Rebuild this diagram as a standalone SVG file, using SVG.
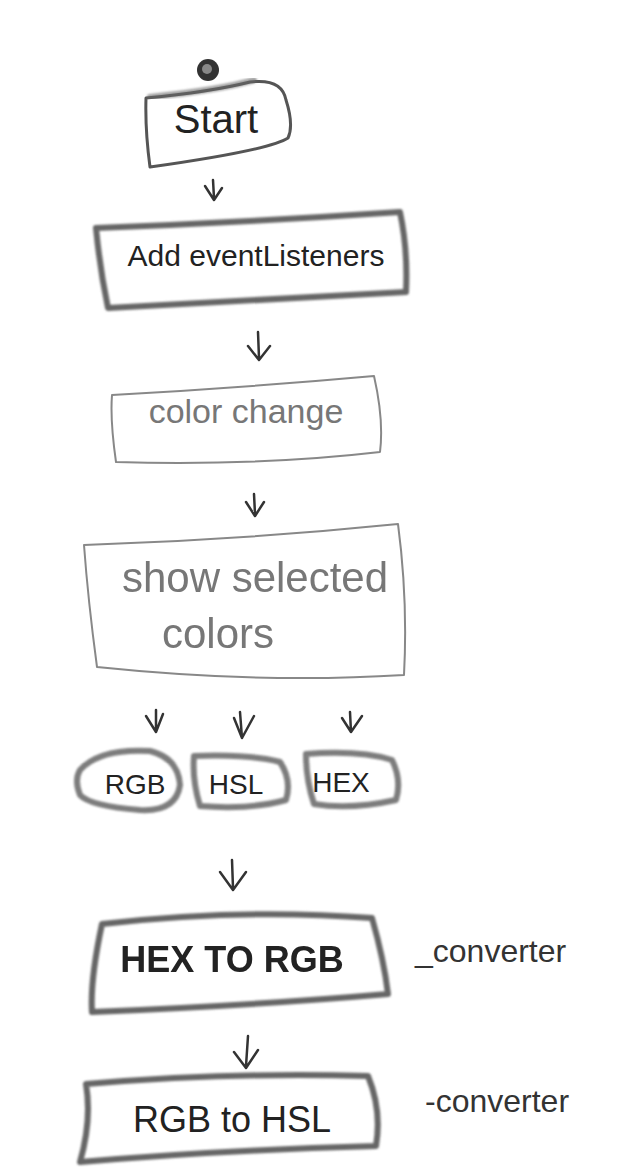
<svg xmlns="http://www.w3.org/2000/svg" width="642" height="1176" viewBox="0 0 642 1176">
<defs>
<filter id="soft" x="-10%" y="-10%" width="120%" height="120%"><feGaussianBlur stdDeviation="1.2"/></filter>
<filter id="soft2" x="-10%" y="-10%" width="120%" height="120%"><feGaussianBlur stdDeviation="0.6"/></filter>
</defs>
<style>
.box{fill:none;stroke:#555;stroke-width:3;stroke-linejoin:round;stroke-linecap:round}
.thick{stroke:#666;stroke-width:6}
.thin{stroke:#888;stroke-width:2}
.lbl{font-family:"Liberation Sans",Arial,sans-serif;fill:#222;text-anchor:middle}
.gray{fill:#777}
.arr{fill:none;stroke:#333;stroke-width:2.5;stroke-linecap:round;stroke-linejoin:round}
.note{font-family:"Liberation Sans",Arial,sans-serif;fill:#333;font-size:32px}
</style>
<rect width="642" height="1176" fill="#fff"/>
<g id="start-dot">
<circle cx="208" cy="70" r="11" fill="#333" filter="url(#soft2)"/>
<circle cx="207" cy="69" r="5" fill="#888"/>
</g>
<g id="start">
<path class="box" d="M146 98 Q210 92 250 82 Q282 78 286 100 Q294 125 288 138 Q270 150 150 167 Q145 130 146 98 Z"/>
<path class="box thick" d="M150 97 Q220 90 254 80" filter="url(#soft)" opacity="0.6"/>
<text class="lbl" x="216" y="133" font-size="40">Start</text>
</g>
<g id="add">
<path class="box thick" d="M96 228 Q250 222 400 212 Q408 250 406 292 Q250 300 108 308 Q100 270 96 228 Z" filter="url(#soft)"/>
<text class="lbl" x="256" y="266" font-size="30">Add eventListeners</text>
</g>
<g id="color-change">
<path class="box thin" d="M112 395 Q240 388 374 376 Q384 420 380 452 Q260 466 116 462 Q110 420 112 395 Z"/>
<text class="lbl gray" x="246" y="423" font-size="34">color change</text>
</g>
<g id="show">
<path class="box thin" d="M84 545 Q240 540 398 524 Q408 600 404 675 Q260 684 97 667 Q88 600 84 545 Z"/>
<text class="lbl gray" x="255" y="592" font-size="42" filter="url(#soft2)">show selected</text>
<text class="lbl gray" x="218" y="648" font-size="42" filter="url(#soft2)">colors</text>
</g>
<g id="rgb">
<path class="box thick" d="M80 770 Q100 748 150 751 Q178 758 180 785 Q176 812 140 810 Q90 806 80 795 Q74 780 80 770 Z" filter="url(#soft)" opacity="0.85"/>
<text class="lbl" x="135" y="794" font-size="28">RGB</text>
</g>
<g id="hsl">
<path class="box thick" d="M194 756 Q250 754 280 762 Q292 780 286 800 Q250 810 200 806 Q192 780 194 756 Z" filter="url(#soft)" opacity="0.85"/>
<text class="lbl" x="236" y="794" font-size="28">HSL</text>
</g>
<g id="hex">
<path class="box thick" d="M306 754 Q360 750 392 760 Q402 780 396 800 Q350 810 314 804 Q306 780 306 754 Z" filter="url(#soft)" opacity="0.85"/>
<text class="lbl" x="341" y="792" font-size="28">HEX</text>
</g>
<g id="hex-to-rgb">
<path class="box thick" d="M102 924 Q240 908 372 918 Q384 960 388 994 Q260 1005 92 1012 Q90 980 102 924 Z" filter="url(#soft)"/>
<text class="lbl" x="232" y="972" font-size="36" font-weight="bold" fill="#444" filter="url(#soft2)">HEX TO RGB</text>
</g>
<text class="note" x="415" y="962">_converter</text>
<g id="rgb-to-hsl">
<path class="box thick" d="M86 1084 Q230 1072 368 1076 Q382 1110 376 1146 Q220 1150 80 1162 Q92 1120 86 1084 Z" filter="url(#soft)"/>
<text class="lbl" x="232" y="1132" font-size="36">RGB to HSL</text>
</g>
<text class="note" x="425" y="1112">-converter</text>
<g id="connectors">
<path class="arr" d="M213 180 L214 198 M205 186 L214 200 L222 188"/>
<path class="arr" d="M258 332 L259 358 M248 346 L259 360 L270 346"/>
<path class="arr" d="M254 494 L255 514 M246 502 L255 516 L264 502" stroke="#777"/>
<path class="arr" d="M156 710 L156 730 M146 716 L156 732 L163 714" stroke="#666"/>
<path class="arr" d="M240 712 L242 738 M234 718 L242 738 L254 716"/>
<path class="arr" d="M350 712 L351 732 M342 718 L351 732 L362 716"/>
<path class="arr" d="M232 860 L233 888 M220 872 L233 890 L246 872"/>
<path class="arr" d="M248 1036 L246 1066 M234 1052 L246 1068 L258 1050"/>
</g>
</svg>
